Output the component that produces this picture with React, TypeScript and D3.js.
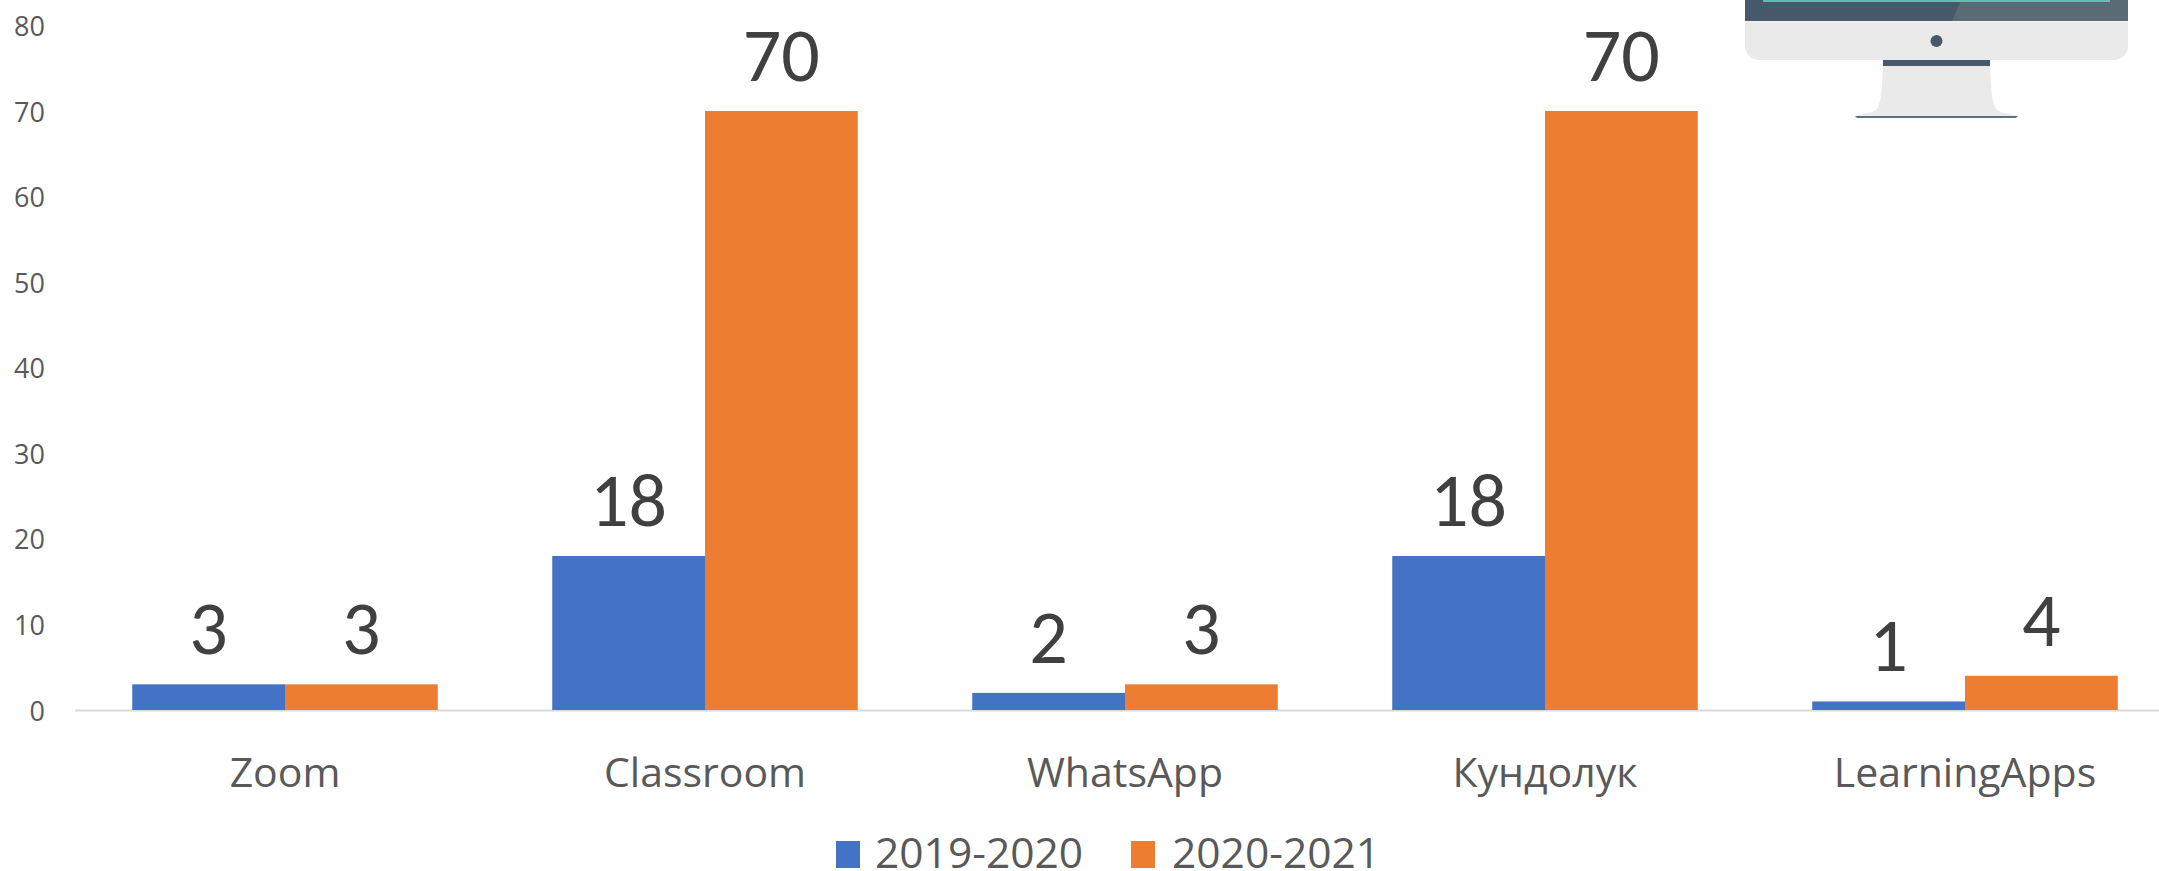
import React from "react";
import * as d3 from "d3";

const categories = ["Zoom", "Classroom", "WhatsApp", "Кундолук", "LearningApps"];
const seriesNames = ["2019-2020", "2020-2021"];
const values2019 = [3, 18, 2, 18, 1];
const values2020 = [3, 70, 3, 70, 4];
const colors = ["#4472C4", "#ED7D31"];
const yTicks = [0, 10, 20, 30, 40, 50, 60, 70, 80];

const W = 2159, H = 871;
const font = "'Open Sans', sans-serif";

export default function App() {
  const y = d3.scaleLinear().domain([0, 70]).range([710, 111]);
  const x0 = d3.scaleBand<string>().domain(categories).range([75, 2175]).paddingInner(0.2726).paddingOuter(0.1363);
  const x1 = d3.scaleBand<string>().domain(seriesNames).range([0, x0.bandwidth()]);
  const series = [values2019, values2020];
  return (
    <svg width={W} height={H} style={{ position: "absolute", left: 0, top: 0, background: "#fff" }}>
      {yTicks.map((t) => (
        <text key={t} x={45} y={y(t)} textAnchor="end" dominantBaseline="central" fontFamily={font} fontSize={27} fill="#595959">{t}</text>
      ))}
      <line x1={75} x2={W} y1={710.5} y2={710.5} stroke="#D9D9D9" strokeWidth={2} />
      {categories.map((c, i) => (
        <g key={c}>
          {seriesNames.map((s, j) => {
            const v = series[j][i];
            const bx = x0(c)! + x1(s)!;
            return (
              <g key={s}>
                <rect x={bx} y={y(v)} width={x1.bandwidth()} height={y(0) - y(v)} fill={colors[j]} />
                <text x={bx + x1.bandwidth() / 2} y={y(v) - 30} textAnchor="middle" fontFamily="Carlito, 'Open Sans', sans-serif" fontSize={76} fill="#404040">{v}</text>
              </g>
            );
          })}
          <text x={x0(c)! + x0.bandwidth() / 2} y={787} textAnchor="middle" fontFamily={font} fontSize={41} fill="#595959">{c}</text>
        </g>
      ))}
      <rect x={836} y={841} width={24} height={27} fill={colors[0]} />
      <text x={875} y={868} fontFamily={font} fontSize={42.5} fill="#595959">{seriesNames[0]}</text>
      <rect x={1131} y={841} width={24} height={27} fill={colors[1]} />
      <text x={1172} y={868} fontFamily={font} fontSize={42.5} fill="#595959">{seriesNames[1]}</text>

      <g>
        <path d="M1745 0H2128V21H1745Z" fill="#47596A" />
        <path d="M1961 0H2128V21H1952Z" fill="#5A6B75" />
        <rect x={1763} y={0} width={347} height={2} fill="#5CC0B5" />
        <path d="M1745 21.5H2128V46a14 14 0 0 1-14 14H1759a14 14 0 0 1-14-14Z" fill="#EAEAEA" />
        <circle cx={1936.5} cy={41} r={6} fill="#47596A" />
        <path d="M1883 66H1990C1991 90 1992 105 1997 110C2001 113 2010 114 2018 116H1855C1863 114 1872 113 1876 110C1881 105 1882 90 1883 66Z" fill="#EAEAEA" />
        <rect x={1883} y={60} width={107} height={6} fill="#47596A" />
        <path d="M1855 116H2018L2016 118H1857Z" fill="#5F7182" />
      </g>
    </svg>
  );
}
